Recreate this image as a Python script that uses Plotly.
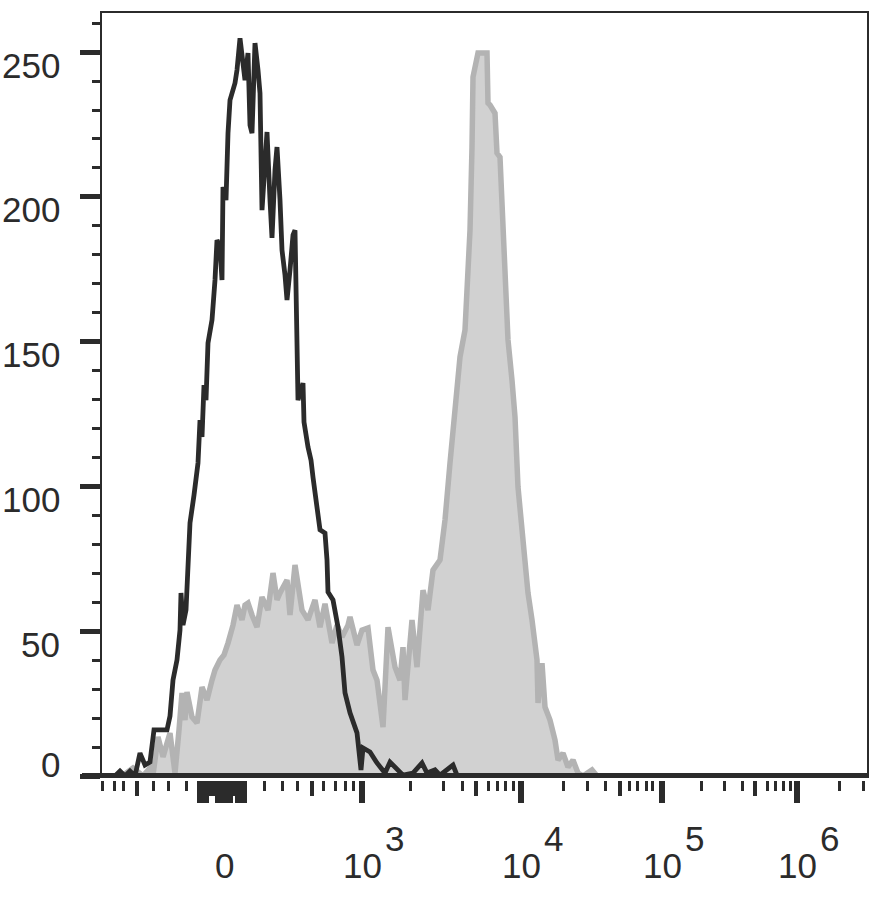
import plotly.graph_objects as go

# ---------------- data (display channel across the plot width, event counts) -------------
black_ch = [0, 13, 18, 23, 28, 33, 38, 43, 48, 52, 58, 65, 68, 71, 75, 78, 79, 81, 84, 86,
            88, 92, 96, 98, 100, 102, 104, 106, 110, 113, 115, 118, 120, 121, 124, 126, 128,
            133, 135, 138, 141, 143, 146, 148, 150, 153, 156, 158, 160, 163, 165, 168, 170,
            173, 175, 178, 180, 183, 185, 188, 191, 193, 195, 196, 201, 202, 206, 209, 211,
            215, 218, 223, 225, 226, 231, 236, 240, 243, 248, 255, 259, 261, 268, 275, 283,
            288, 296, 301, 311, 320, 325, 333, 338, 351, 355, 368, 765]
black_ct = [0, 0, 1.7, 0, 1.7, 0, 7.9, 3.8, 4.8, 15.9, 15.9, 15.9, 20.7, 33.1, 40.1, 50.4,
            63.2, 52.1, 57.3, 71.8, 87.4, 97.0, 108.1, 122.9, 117.1, 135.0, 129.8, 149.5,
            157.5, 171.3, 185.1, 182.7, 171.3, 203.4, 198.9, 222.0, 233.4, 239.3, 243.8,
            254.8, 247.2, 240.3, 249.7, 224.8, 222.0, 253.1, 243.8, 235.8, 195.4, 212.7,
            222.4, 198.9, 185.8, 209.3, 217.2, 198.9, 181.6, 173.0, 164.4, 174.7, 186.8,
            188.5, 159.9, 129.8, 135.7, 122.2, 113.6, 109.1, 103.2, 91.9, 85.0, 83.9, 74.6,
            63.5, 60.8, 51.4, 41.1, 28.7, 21.8, 14.9, 2.1, 9.7, 8.3, 4.5, 1.0, 4.8, 2.1, 0.3,
            1.0, 4.5, 1.0, 2.1, 0.3, 3.8, 0.3, 0, 0]

gray_ch = [13, 23, 31, 41, 48, 51, 56, 61, 68, 73, 77, 80, 83, 85, 90, 95, 100, 105, 110,
           113, 118, 122, 126, 131, 135, 140, 143, 146, 150, 155, 160, 166, 171, 175, 178,
           185, 188, 193, 200, 206, 213, 218, 223, 230, 235, 240, 246, 248, 255, 260, 266,
           271, 275, 281, 286, 293, 298, 301, 303, 310, 315, 321, 326, 331, 338, 343, 348,
           355, 358, 363, 366, 368, 370, 371, 376, 385, 386, 388, 393, 395, 398, 401, 403,
           406, 410, 413, 416, 420, 423, 426, 430, 435, 436, 440, 443, 448, 453, 456, 461,
           466, 471, 476, 481, 490, 495, 765]
gray_ct = [0, 0.7, 2.8, 0, 2.8, 0.3, 13.5, 6.6, 14.8, 1.0, 15.9, 28.7, 19.3, 29.0, 20.4,
           18.3, 30.7, 26.2, 33.1, 36.6, 40.1, 41.8, 45.9, 52.1, 59.0, 53.9, 59.0, 59.7,
           55.6, 51.4, 61.8, 57.3, 70.1, 60.8, 63.2, 67.7, 55.6, 72.9, 57.3, 53.9, 60.8,
           51.4, 59.5, 45.9, 52.1, 48.0, 52.1, 54.9, 45.2, 50.4, 51.1, 36.6, 33.1, 16.9,
           51.4, 37.6, 33.1, 44.5, 26.2, 53.9, 37.6, 64.2, 57.3, 71.1, 74.6, 88.4, 108.1,
           136.7, 144.7, 154.0, 171.3, 188.5, 217.2, 241.4, 249.7, 249.7, 232.4, 231.7,
           228.9, 215.1, 213.7, 187.5, 165.4, 150.6, 136.7, 124.0, 99.8, 84.9, 74.6, 63.2,
           53.9, 40.1, 25.2, 39.0, 23.8, 19.3, 12.4, 5.5, 7.9, 3.1, 5.5, 1.0, 0, 2.1, 0, 0]

# y axis ticks
y_major = [0, 50, 100, 150, 200, 250]
y_labels = ["0", "50", "100", "150", "200", "250"]
y_minor = [10, 20, 30, 40, 60, 70, 80, 90, 110, 120, 130, 140, 160, 170, 180, 190,
           210, 220, 230, 240, 260]

# x axis ticks (display channels)
x_label_pos = [122, 260, 419, 560, 695]
x_label_base = ["0", "10", "10", "10", "10"]
x_label_exp = ["", "3", "4", "5", "6"]
x_major = [260, 419, 560, 695, 98, 101, 104, 116, 119, 122, 125, 128, 136, 139, 142]
x_medium = [35, 210, 374, 518, 653, 107, 110, 113, 131, 134]
x_minor = [0, 12, 21, 51, 66, 84, 162, 180, 195, 221, 233, 243, 251, 308, 341, 360, 386,
           395, 403, 411, 461, 485, 503, 527, 535, 544, 550, 599, 622, 640, 665, 673, 681,
           688, 737, 761]

X_RANGE = [0, 765]
Y_RANGE = [0, 263.5]

INK = "#2b2b2b"
FONT = "Arial, Liberation Sans, sans-serif"

W, H = 874, 899
ML, MT = 102, 13
PW = 765
PH = 767
MR = W - ML - PW
MB = H - MT - PH
dom0 = 4 / PH


def py_paper(py):
    """pixel row -> paper y"""
    return (MT + PH - py) / PH


fig = go.Figure()
fig.add_trace(go.Scatter(x=gray_ch, y=gray_ct, mode="lines", fill="tozeroy",
                         fillcolor="#d1d1d1", line=dict(color="#b3b3b3", width=5.5),
                         showlegend=False, hoverinfo="skip"))
fig.add_trace(go.Scatter(x=black_ch, y=black_ct, mode="lines",
                         line=dict(color=INK, width=4.8), showlegend=False, hoverinfo="skip"))
for ax in ["x2", "x3", "x4"]:
    fig.add_trace(go.Scatter(x=[None], y=[None], xaxis=ax, yaxis="y", showlegend=False,
                             hoverinfo="skip"))
fig.add_trace(go.Scatter(x=[None], y=[None], xaxis="x", yaxis="y2", showlegend=False,
                         hoverinfo="skip"))

common_x = dict(range=X_RANGE, showgrid=False, zeroline=False, showticklabels=False,
                fixedrange=True)
fig.update_layout(
    width=W, height=H, margin=dict(l=ML, r=MR, t=MT, b=MB, autoexpand=False),
    paper_bgcolor="white", plot_bgcolor="white",
    xaxis=dict(**common_x, showline=True, linecolor=INK, linewidth=1.5, mirror=True,
               ticks=""),
    xaxis2=dict(**common_x, overlaying="x", anchor="free", position=0, ticks="outside",
                tickmode="array", tickvals=x_major, ticklen=22, tickwidth=6, tickcolor=INK,
                showline=False),
    xaxis3=dict(**common_x, overlaying="x", anchor="free", position=0, ticks="outside",
                tickmode="array", tickvals=x_medium, ticklen=15, tickwidth=4, tickcolor=INK,
                showline=False),
    xaxis4=dict(**common_x, overlaying="x", anchor="free", position=0, ticks="outside",
                tickmode="array", tickvals=x_minor, ticklen=10, tickwidth=3, tickcolor=INK,
                showline=False),
    yaxis=dict(range=Y_RANGE, domain=[dom0, 1], showgrid=False, zeroline=False,
               showline=True, linecolor=INK, linewidth=2, mirror=True,
               ticks="outside", tickmode="array", tickvals=y_major, ticklen=20,
               tickwidth=5, tickcolor=INK, showticklabels=False, fixedrange=True),
    yaxis2=dict(range=Y_RANGE, overlaying="y", anchor="x", side="left", showgrid=False,
                zeroline=False, showline=False, ticks="outside", tickmode="array",
                tickvals=y_minor, ticklen=9, tickwidth=3, tickcolor=INK,
                showticklabels=False, fixedrange=True),
)

# thick baseline extending left past the y axis
fig.add_shape(type="line", xref="paper", yref="y", x0=-20 / PW, x1=1, y0=0, y1=0,
              line=dict(color=INK, width=6))

ann = []
for v, t in zip(y_major, y_labels):
    ann.append(dict(xref="paper", yref="y", x=(62 - ML) / PW, y=v, text=t,
                    xanchor="right", yanchor="middle", showarrow=False,
                    yshift=(12 if v == 0 else -13),
                    font=dict(family=FONT, size=35, color=INK)))
for p, b, e in zip(x_label_pos, x_label_base, x_label_exp):
    ann.append(dict(xref="x", yref="paper", x=p, y=py_paper(865), text=b,
                    xanchor="center", yanchor="middle", showarrow=False,
                    font=dict(family=FONT, size=35, color=INK)))
    if e:
        ann.append(dict(xref="x", yref="paper", x=p, y=py_paper(838), text=e,
                        xanchor="center", yanchor="middle", showarrow=False,
                        xshift=32, font=dict(family=FONT, size=35, color=INK)))
fig.update_layout(annotations=ann)

fig.write_html("out.html", config={"displayModeBar": False},
               post_script="document.body.style.margin='0px';")
